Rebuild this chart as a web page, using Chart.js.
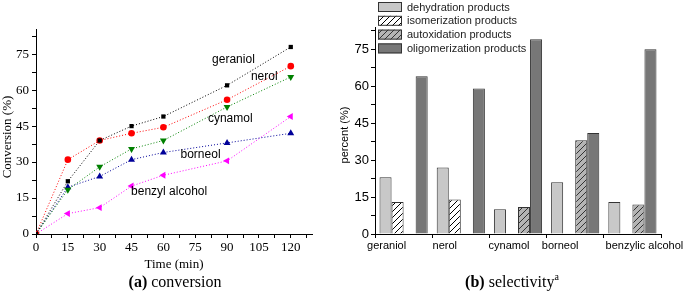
<!DOCTYPE html>
<html>
<head>
<meta charset="utf-8">
<script src="https://cdn.jsdelivr.net/npm/chart.js@4.4.1/dist/chart.umd.min.js"></script>
<style>
  body { margin: 0; background: #fff; width: 685px; height: 293px; overflow: hidden; position: relative; }
  canvas { position: absolute; top: 0; }
  #conversionChart { left: 0; }
  #selectivityChart { left: 340px; }
  .txt { position: absolute; white-space: nowrap; color: #000; line-height: 1; }
  .serif { font-family: "Liberation Serif", "DejaVu Serif", serif; }
</style>
</head>
<body>
<canvas id="conversionChart" width="340" height="293"></canvas>
<canvas id="selectivityChart" width="345" height="293"></canvas>

<div class="txt serif" style="left:174px;top:263px;font-size:13px;transform:translate(-50%,-50%);">Time (min)</div>
<div class="txt serif" style="left:175px;top:282px;font-size:16px;transform:translate(-50%,-50%);"><b>(a)</b> conversion</div>
<div class="txt serif" style="left:512px;top:281px;font-size:16px;transform:translate(-50%,-50%);"><b>(b)</b> selectivity<sup style="font-size:10px;">a</sup></div>

<script>
// (a) conversion vs time
const times = [0, 15, 30, 45, 60, 90, 120];
const geraniol = [0, 22, 39, 45, 49, 62, 78];
const nerol = [0, 31, 39, 42, 44.5, 56, 70];
const cynamol = [0, 18.5, 28, 35.5, 39, 53, 65.5];
const borneol = [0, 19.5, 24, 31, 34, 38, 42];
const benzylAlcohol = [0, 8.5, 11, 20, 24.5, 30.5, 49];

// (b) selectivity per substrate
const substrates = ['geraniol', 'nerol', 'cynamol', 'borneol', 'benzylic alcohol'];
const dehydration = [23, 27, 10, 21, 13];
const isomerization = [13, 14, 0, 0, 0];
const autoxidation = [0, 0, 11, 38, 12];
const oligomerization = [64, 59, 79, 41, 75];

const SERIF = '"Liberation Serif", "DejaVu Serif", serif';
const SANS = '"Liberation Sans", Arial, sans-serif';

function minorTicks(max) {
  return function (scale) {
    const ticks = [];
    for (let v = 0; v <= max; v += 7.5) ticks.push({ value: v });
    scale.ticks = ticks;
  };
}

function points(ys) {
  return times.map((t, i) => ({ x: t, y: ys[i] }));
}

function series(label, ys, color, style, radius, rotation) {
  return {
    label: label,
    data: points(ys),
    borderColor: color,
    backgroundColor: color,
    borderWidth: 1,
    borderDash: [1, 2],
    pointStyle: style,
    rotation: rotation || 0,
    pointRadius: radius,
    pointBorderWidth: 0,
    tension: 0
  };
}

function yTitle(text, x, y, font) {
  return {
    id: 'yTitle',
    afterDraw(chart) {
      const ctx = chart.ctx;
      ctx.save();
      ctx.translate(x, y);
      ctx.rotate(-Math.PI / 2);
      ctx.font = font;
      ctx.fillStyle = '#000';
      ctx.textAlign = 'center';
      ctx.textBaseline = 'middle';
      ctx.fillText(text, 0, 0);
      ctx.restore();
    }
  };
}

// curve names written next to the lines (in data coordinates)
const curveLabels = [
  { text: 'geraniol', x: 93, y: 72.5 },
  { text: 'nerol', x: 107.5, y: 65.8 },
  { text: 'cynamol', x: 91.5, y: 48.3 },
  { text: 'borneol', x: 77.5, y: 33 },
  { text: 'benzyl alcohol', x: 62.7, y: 17.8 }
];

const curveLabelPlugin = {
  id: 'curveLabels',
  afterDatasetsDraw(chart) {
    const { ctx, scales } = chart;
    ctx.save();
    ctx.font = '12px ' + SANS;
    ctx.fillStyle = '#000';
    ctx.textAlign = 'center';
    ctx.textBaseline = 'middle';
    curveLabels.forEach(l => {
      ctx.fillText(l.text, scales.x.getPixelForValue(l.x), scales.y.getPixelForValue(l.y));
    });
    ctx.restore();
  }
};

new Chart(document.getElementById('conversionChart'), {
  type: 'line',
  data: {
    datasets: [
      series('geraniol', geraniol, '#000000', 'rect', 3),
      series('nerol', nerol, '#ff0000', 'circle', 3.3),
      series('cynamol', cynamol, '#008000', 'triangle', 4, 180),
      series('borneol', borneol, '#000099', 'triangle', 4),
      series('benzyl alcohol', benzylAlcohol, '#ff00ff', 'triangle', 4, -90)
    ]
  },
  options: {
    responsive: false,
    animation: false,
    devicePixelRatio: 1,
    layout: { padding: { top: 29, right: 28, left: 0, bottom: 0 } },
    plugins: { legend: { display: false }, tooltip: { enabled: false } },
    scales: {
      x: {
        type: 'linear',
        min: 0,
        max: 130,
        afterBuildTicks: minorTicks(127.5),
        afterFit(scale) { scale.height = 59; },
        grid: { drawOnChartArea: false, color: '#000', tickLength: 4 },
        border: { color: '#000', width: 1 },
        ticks: {
          autoSkip: false,
          maxRotation: 0,
          padding: 2,
          color: '#000',
          font: { family: SERIF, size: 13 },
          callback: v => (v % 15 === 0 && v <= 120 ? String(v) : '')
        }
      },
      y: {
        min: 0,
        max: 85.5,
        afterBuildTicks: minorTicks(82.5),
        afterFit(scale) { scale.width = 36; },
        grid: { drawOnChartArea: false, color: '#000', tickLength: 4 },
        border: { color: '#000', width: 1 },
        ticks: {
          autoSkip: false,
          padding: 3,
          color: '#000',
          font: { family: SERIF, size: 13 },
          callback: v => (v % 15 === 0 ? String(v) : '')
        }
      }
    }
  },
  plugins: [curveLabelPlugin, yTitle('Conversion (%)', 8, 137, '13px ' + SERIF)]
});

function hatch(bg, line) {
  const c = document.createElement('canvas');
  c.width = 6;
  c.height = 6;
  const g = c.getContext('2d');
  g.fillStyle = bg;
  g.fillRect(0, 0, 6, 6);
  g.strokeStyle = line;
  g.lineWidth = 1;
  g.beginPath();
  g.moveTo(0, 6); g.lineTo(6, 0);
  g.moveTo(-1, 1); g.lineTo(1, -1);
  g.moveTo(5, 7); g.lineTo(7, 5);
  g.stroke();
  return g.createPattern(c, 'repeat');
}

const sctx = document.getElementById('selectivityChart').getContext('2d');

const boxLegendPlugin = {
  id: 'boxLegend',
  afterDraw(chart) {
    const { ctx } = chart;
    ctx.save();
    ctx.font = '11px ' + SANS;
    ctx.textBaseline = 'middle';
    chart.data.datasets.forEach((ds, i) => {
      const cy = 7 + i * 13.8;
      ctx.fillStyle = ds.backgroundColor;
      ctx.fillRect(38, cy - 5, 24, 10);
      ctx.strokeStyle = '#333';
      ctx.lineWidth = 1;
      ctx.strokeRect(38.5, cy - 4.5, 23, 9);
      ctx.fillStyle = '#222';
      ctx.fillText(ds.label, 67, cy + 0.5);
    });
    ctx.restore();
  }
};

// substrate names sit a little off the group centres, as in the figure
const labelShift = [-17, -16, -9, -15, 12];

const categoryLabelPlugin = {
  id: 'categoryLabels',
  afterDraw(chart) {
    const { ctx, scales } = chart;
    ctx.save();
    ctx.font = '11px ' + SANS;
    ctx.fillStyle = '#000';
    ctx.textAlign = 'center';
    ctx.textBaseline = 'middle';
    chart.data.labels.forEach((name, i) => {
      ctx.fillText(name, scales.x.getPixelForValue(i) + labelShift[i], scales.y.bottom + 12);
    });
    ctx.restore();
  }
};

function barSet(label, values, fill) {
  return {
    label: label,
    data: values,
    backgroundColor: fill,
    borderColor: '#333',
    borderWidth: 1,
    borderSkipped: 'bottom',
    barPercentage: 1,
    categoryPercentage: 48 / 57
  };
}

new Chart(sctx, {
  type: 'bar',
  data: {
    labels: substrates,
    datasets: [
      barSet('dehydration products', dehydration, '#c8c8c8'),
      barSet('isomerization products', isomerization, hatch('#ffffff', '#000000')),
      barSet('autoxidation products', autoxidation, hatch('#b4b4b4', '#333333')),
      barSet('oligomerization products', oligomerization, '#777777')
    ]
  },
  options: {
    responsive: false,
    animation: false,
    devicePixelRatio: 1,
    layout: { padding: { top: 27, right: 24, left: 0, bottom: 0 } },
    plugins: { legend: { display: false }, tooltip: { enabled: false } },
    scales: {
      x: {
        offset: true,
        afterFit(scale) { scale.height = 59; },
        grid: { offset: true, drawOnChartArea: false, color: '#000', tickLength: 4 },
        border: { color: '#000', width: 1 },
        ticks: { display: false }
      },
      y: {
        min: 0,
        max: 84,
        afterBuildTicks: minorTicks(82.5),
        afterFit(scale) { scale.width = 35; },
        grid: { drawOnChartArea: false, color: '#000', tickLength: 4 },
        border: { color: '#000', width: 1 },
        ticks: {
          autoSkip: false,
          padding: 2,
          color: '#000',
          font: { family: SANS, size: 13 },
          callback: v => (v % 15 === 0 ? String(v) : '')
        }
      }
    }
  },
  plugins: [boxLegendPlugin, categoryLabelPlugin, yTitle('percent (%)', 5, 135, '11px ' + SANS)]
});
</script>
</body>
</html>
